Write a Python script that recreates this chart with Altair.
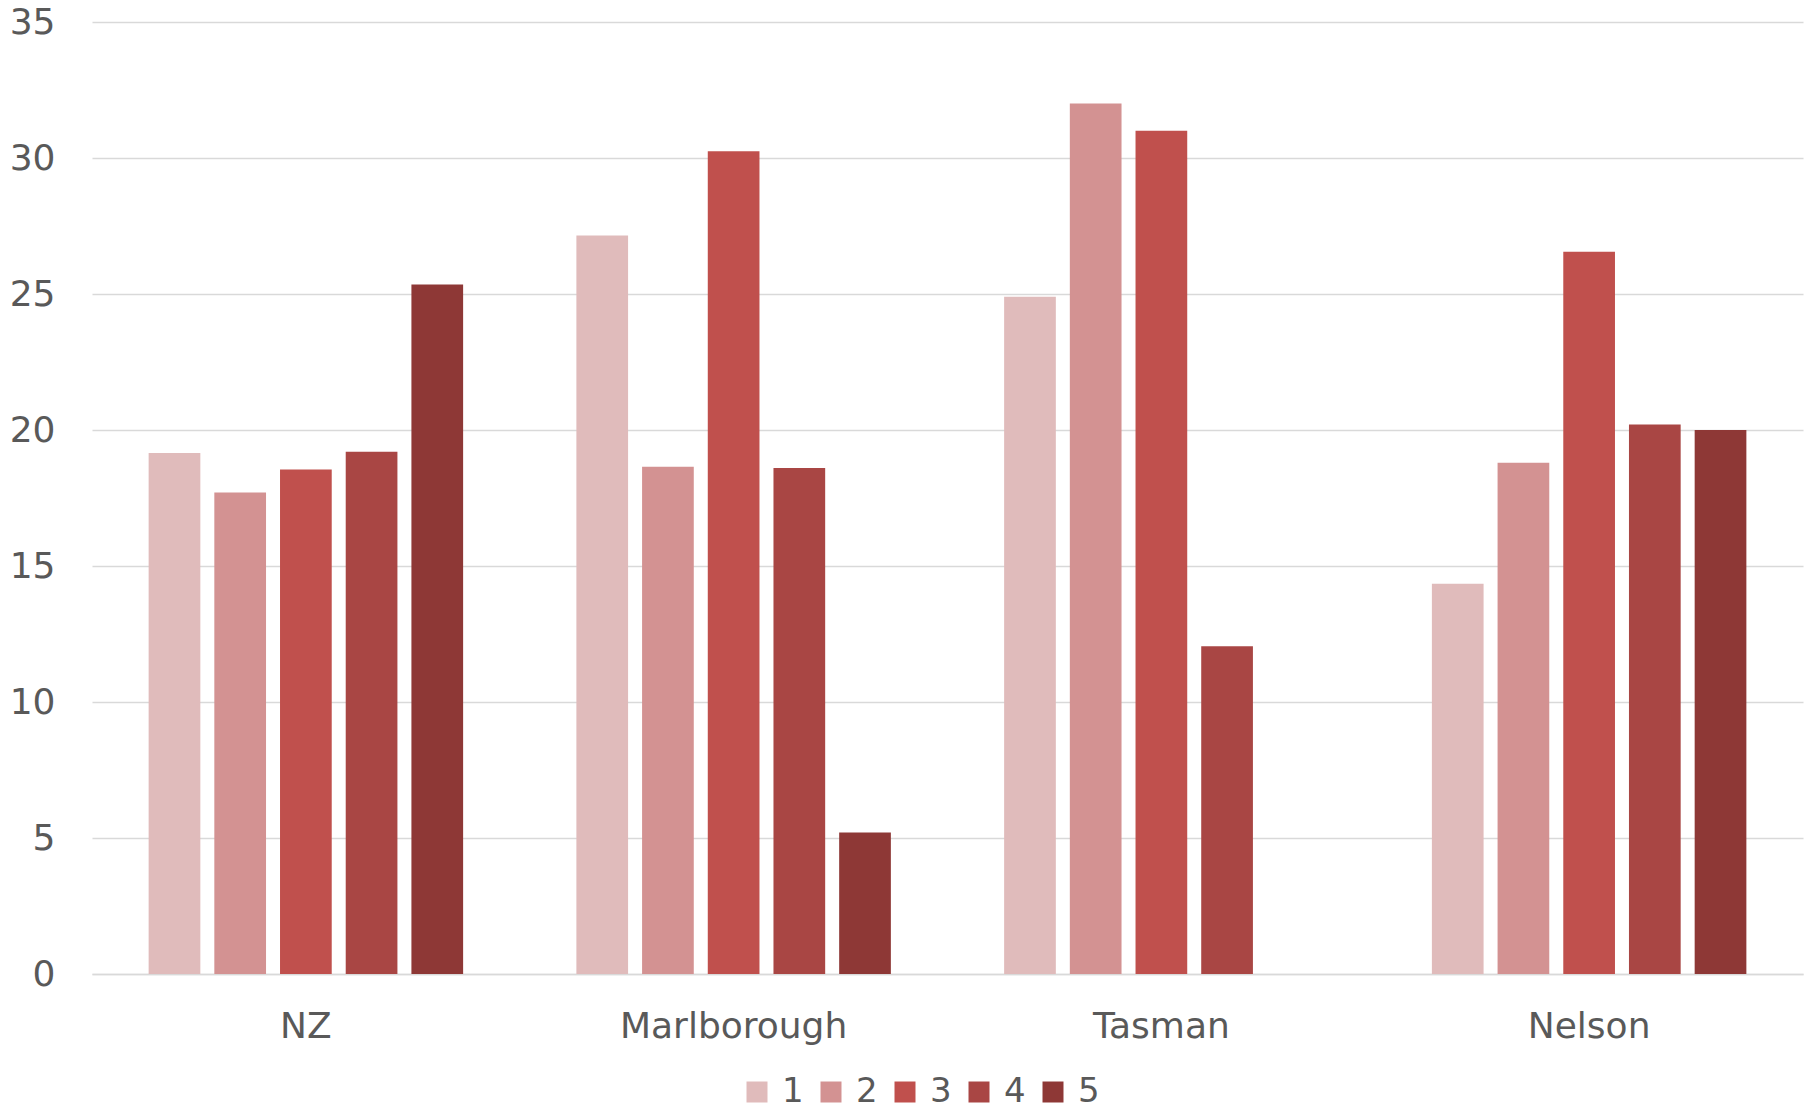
import altair as alt
import pandas as pd

# Categories and series values
regions = ["NZ", "Marlborough", "Tasman", "Nelson"]
series_names = ["1", "2", "3", "4", "5"]
s1 = [19.15, 27.15, 24.9, 14.35]
s2 = [17.7, 18.65, 32.0, 18.8]
s3 = [18.55, 30.25, 31.0, 26.55]
s4 = [19.2, 18.6, 12.05, 20.2]
s5 = [25.35, 5.2, None, 20.0]
y_ticks = [0, 5, 10, 15, 20, 25, 30, 35]

palette = ["#E0BBBB", "#D39292", "#C0504D", "#A94644", "#8E3836"]

rows = []
for name, vals in zip(series_names, [s1, s2, s3, s4, s5]):
    for region, v in zip(regions, vals):
        if v is not None:
            rows.append({"region": region, "series": name, "value": v})
df = pd.DataFrame(rows)

FONT = "DejaVu Sans"
TEXT = "#595959"
GRID = "#D9D9D9"

chart = (
    alt.Chart(df)
    .mark_bar()
    .encode(
        x=alt.X(
            "region:N",
            sort=regions,
            scale=alt.Scale(paddingInner=0, paddingOuter=0),
            axis=alt.Axis(
                title=None,
                labelAngle=0,
                ticks=False,
                domain=True,
                domainColor=GRID,
                domainWidth=1.5,
                labelPadding=35,
                labelLimit=0,
                labelFontSize=36,
                labelFont=FONT,
                labelColor=TEXT,
            ),
        ),
        xOffset=alt.XOffset(
            "series:N",
            scale=alt.Scale(domain=series_names, paddingInner=0.213, paddingOuter=0.862),
        ),
        y=alt.Y(
            "value:Q",
            scale=alt.Scale(domain=[0, 35], nice=False),
            axis=alt.Axis(
                title=None,
                values=y_ticks,
                grid=True,
                gridColor=GRID,
                gridWidth=1.5,
                domain=False,
                ticks=False,
                labelPadding=37,
                labelFontSize=36,
                labelFont=FONT,
                labelColor=TEXT,
            ),
        ),
        color=alt.Color(
            "series:N",
            scale=alt.Scale(domain=series_names, range=palette),
            legend=alt.Legend(
                title=None,
                orient="none",
                direction="horizontal",
                legendX=648,
                legendY=1053,
                symbolType="square",
                symbolSize=441,
                symbolStrokeWidth=0,
                labelFontSize=34,
                labelFont=FONT,
                labelColor=TEXT,
                labelOffset=8,
                labelLimit=0,
                columnPadding=10,
            ),
        ),
    )
    .properties(
        width=1711,
        height=952,
        autosize=alt.AutoSizeParams(type="none"),
        padding={"left": 92, "top": 22, "right": 10, "bottom": 138},
    )
    .configure_view(stroke=None)
)

chart.save("out.html", embed_options={"renderer": "svg", "actions": False})
